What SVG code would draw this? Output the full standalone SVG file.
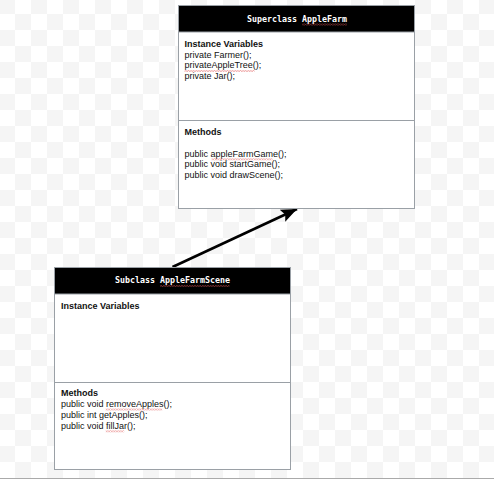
<svg xmlns="http://www.w3.org/2000/svg" width="494" height="479" viewBox="0 0 494 479">
  <style>
    .box { fill: #ffffff; stroke: #9aa0a6; stroke-width: 1; }
    .hdr { fill: #000000; stroke: #9aa0a6; stroke-width: 1; }
    .div { stroke: #9aa0a6; stroke-width: 1; }
    .title { font-family: "DejaVu Sans Mono", "Liberation Mono", monospace; font-size: 8.3px; font-weight: bold; fill: #ffffff; text-anchor: middle; }
    .t { font-family: "Liberation Sans", Arial, sans-serif; font-size: 9px; fill: #111111; }
    .b { font-weight: bold; }
    .sq { fill: url(#squig); }
    .conn { stroke: #000000; stroke-width: 2.6; fill: none; }
  </style>
  <defs>
    <pattern id="checker" x="-1" y="-2" width="32" height="32" patternUnits="userSpaceOnUse">
      <rect width="32" height="32" fill="#ffffff"/>
      <rect x="0" y="0" width="16" height="16" fill="#f5f5f5"/>
      <rect x="16" y="16" width="16" height="16" fill="#f5f5f5"/>
    </pattern>
    <pattern id="squig" x="0" y="0" width="2.6" height="2" patternUnits="userSpaceOnUse">
      <path d="M0,1.6 L1.3,0.4 L2.6,1.6" fill="none" stroke="#e05555" stroke-width="0.6"/>
    </pattern>
    <marker id="arrow" markerUnits="userSpaceOnUse" markerWidth="18" markerHeight="14" refX="16" refY="7" orient="auto">
      <path d="M0,0.5 L16,7 L0,13.5 L3,7 z" fill="#000000"/>
    </marker>
  </defs>

  <rect x="0" y="0" width="494" height="479" fill="url(#checker)"/>
  <line x1="0" y1="478.5" x2="494" y2="478.5" stroke="#aaaaaa" stroke-width="1"/>

  <g id="connectors">
    <line class="conn" x1="172.5" y1="267" x2="297" y2="209" marker-end="url(#arrow)"/>
  </g>

  <g id="superclass-applefarm">
    <rect class="box" x="178.5" y="5.5" width="236" height="203"/>
    <rect class="hdr" x="178.5" y="5.5" width="236" height="26.5"/>
    <line class="div" x1="178.5" y1="120.5" x2="414.5" y2="120.5"/>
    <text class="title" x="297" y="22">Superclass AppleFarm</text>
    <rect class="sq" x="302" y="23.5" width="45" height="2"/>
    <text class="t b" x="184.5" y="47">Instance Variables</text>
    <text class="t" x="184.5" y="57.5">private Farmer();</text>
    <text class="t" x="184.5" y="68">privateAppleTree();</text>
    <rect class="sq" x="184.5" y="70" width="70" height="2"/>
    <text class="t" x="184.5" y="78.5">private Jar();</text>
    <text class="t b" x="184.5" y="135">Methods</text>
    <text class="t" x="184.5" y="156.5">public appleFarmGame();</text>
    <rect class="sq" x="211.5" y="158.3" width="61" height="2"/>
    <text class="t" x="184.5" y="167.3">public void startGame();</text>
    <text class="t" x="184.5" y="178">public void drawScene();</text>
  </g>

  <g id="subclass-applefarmscene">
    <rect class="box" x="54.5" y="267.5" width="236" height="202"/>
    <rect class="hdr" x="54.5" y="267.5" width="236" height="26.5"/>
    <line class="div" x1="54.5" y1="382.5" x2="290.5" y2="382.5"/>
    <text class="title" x="172.5" y="283">Subclass AppleFarmScene</text>
    <rect class="sq" x="160" y="285" width="69.5" height="2"/>
    <text class="t b" x="61" y="309">Instance Variables</text>
    <text class="t b" x="61" y="396">Methods</text>
    <text class="t" x="61" y="407">public void removeApples();</text>
    <rect class="sq" x="105.7" y="408.5" width="56.5" height="2"/>
    <text class="t" x="61" y="418">public int getApples();</text>
    <text class="t" x="61" y="429">public void fillJar();</text>
    <rect class="sq" x="105.7" y="430.3" width="18.5" height="2"/>
  </g>
</svg>
